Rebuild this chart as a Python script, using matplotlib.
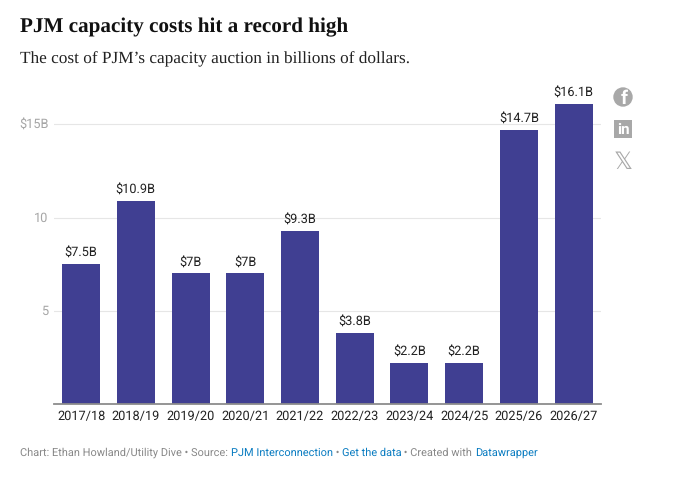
import matplotlib
matplotlib.use("Agg")
import matplotlib.pyplot as plt
from matplotlib.patches import Circle, Rectangle

categories = ["2017/18", "2018/19", "2019/20", "2020/21", "2021/22",
              "2022/23", "2023/24", "2024/25", "2025/26", "2026/27"]
values = [7.5, 10.9, 7, 7, 9.3, 3.8, 2.2, 2.2, 14.7, 16.1]
value_labels = ["$7.5B", "$10.9B", "$7B", "$7B", "$9.3B", "$3.8B", "$2.2B", "$2.2B", "$14.7B", "$16.1B"]
y_ticks = [5, 10, 15]
y_tick_labels = ["5", "10", "$15B"]
title = "PJM capacity costs hit a record high"
subtitle = "The cost of PJM\u2019s capacity auction in billions of dollars."
footer = [("Chart: Ethan Howland/Utility Dive \u2022 Source: ", "#888888"),
          ("PJM Interconnection", "#0a7cc1"), (" \u2022 ", "#888888"),
          ("Get the data", "#0a7cc1"), (" \u2022 Created with ", "#888888"),
          ("Datawrapper", "#0a7cc1")]
footer_nudge = [0, 0.6, 0, 0, 0, 0.6]

W, H = 677, 483
plt.rcParams["font.family"] = ["Roboto", "DejaVu Sans"]
plt.rcParams["text.parse_math"] = False
plt.rcParams["text.hinting"] = "no_hinting"
fig = plt.figure(figsize=(W / 100, H / 100), dpi=100, facecolor="white")
L, R, T, B = 53.7, 601, 84, 404
ax = fig.add_axes([L / W, 1 - B / H, (R - L) / W, (B - T) / H])
ax.set_facecolor("none")
x = list(range(len(values)))
ax.bar(x, values, width=0.695, color="#403F92", zorder=3)
ax.set_xlim(-0.5, 9.5)
ax.set_ylim(0, (B - T) / 18.65)
for s in ["top", "left", "right"]:
    ax.spines[s].set_visible(False)
ax.spines["bottom"].set_color("#8c8c8c")
ax.spines["bottom"].set_linewidth(1.3)
ax.spines["bottom"].set_zorder(4)
ax.set_xticks(x, categories, fontsize=9.2, color="#222222")
ax.tick_params(axis="x", length=0, pad=4.5)
ax.set_yticks(y_ticks)
ax.set_yticklabels([])
ax.tick_params(axis="y", length=0)
ax.grid(axis="y", color="#e6e6e6", linewidth=0.8, zorder=0)
for xi, v, lab in zip(x, values, value_labels):
    ax.annotate(lab, (xi, v), xytext=(0, 3.2), textcoords="offset points", ha="center", va="bottom",
                fontsize=9.2, color="#222222", zorder=5)
for t, lab in zip(y_ticks, y_tick_labels):
    ax.annotate(lab, (0, t), xycoords=("figure pixels", "data"), xytext=(48.5 * 0.72, -0.7), textcoords="offset points",
                ha="right", va="center", fontsize=9.2, color="#a6a6a6")

fig.text(20 / W, 1 - 32 / H, title, family="Liberation Serif", fontweight="bold", fontsize=15.25, color="#111111",
         ha="left", va="baseline")
fig.text(20 / W, 1 - 63 / H, subtitle, family="Liberation Serif", fontsize=12.45, color="#222222",
         ha="left", va="baseline")

# footer segments
fig.canvas.draw()
r = fig.canvas.get_renderer()
px = 20.0
for (seg, col), dy in zip(footer, footer_nudge):
    t = fig.text(px / W, 1 - (456 + dy) / H, seg, fontsize=7.88, color=col, ha="left", va="baseline")
    w, _, _ = r.get_text_width_height_descent(seg, t.get_fontproperties(), False)
    px += w

# share icons in pixel coordinates
ov = fig.add_axes([0, 0, 1, 1], zorder=10)
ov.set_xlim(0, W); ov.set_ylim(H, 0); ov.axis("off"); ov.patch.set_alpha(0)
g = "#a8a8a8"
ov.add_patch(Circle((623, 97), 9.7, color=g, lw=0))
ov.text(624, 99, "f", color="white", fontsize=14, fontweight="bold", ha="center", va="center")
ov.add_patch(Rectangle((614, 120), 18, 17.5, color=g, lw=0))
ov.text(623, 129.5, "in", color="white", fontsize=11, fontweight="bold", ha="center", va="center")
ov.text(623, 162.5, "\U0001D54F", family="DejaVu Sans", color=g, fontsize=17, ha="center", va="center")

fig.savefig("out.png", dpi=100, facecolor="white")
